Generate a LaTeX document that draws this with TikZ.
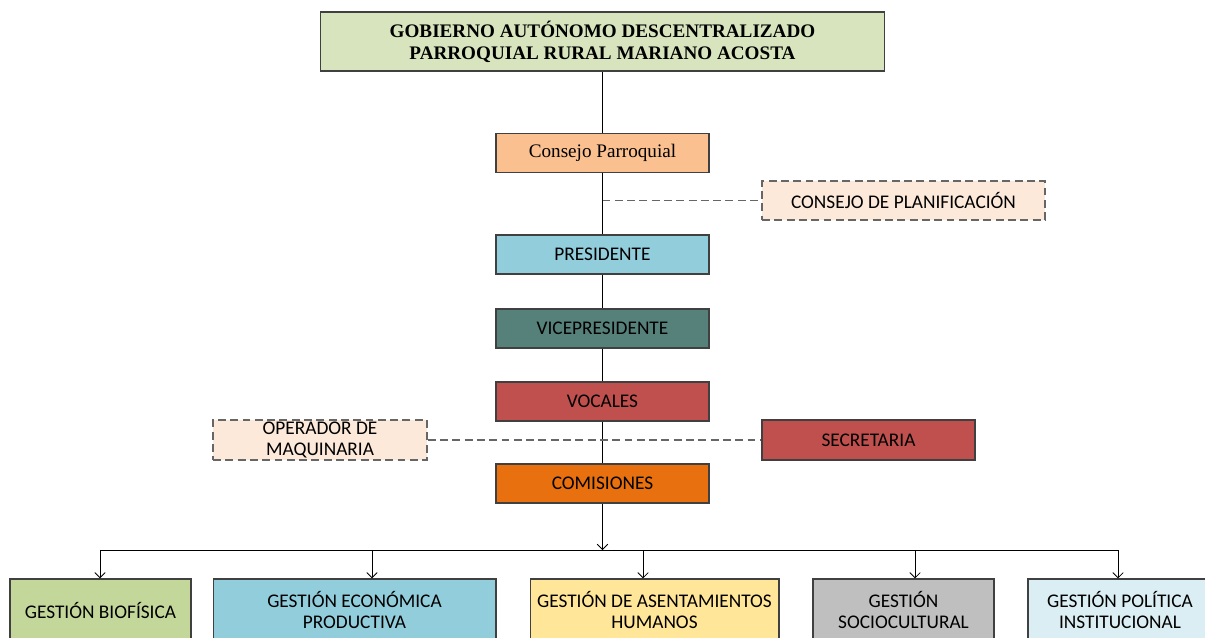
\documentclass[tikz,border=0pt]{standalone}
\usepackage{fontspec}
\setmainfont{Carlito}
\newfontfamily\romanfont{Liberation Serif}
\usetikzlibrary{arrows.meta}

\definecolor{gadverde}{HTML}{D7E4BD}
\definecolor{naranjaclaro}{HTML}{FAC090}
\definecolor{durazno}{HTML}{FDE9D9}
\definecolor{celeste}{HTML}{92CDDC}
\definecolor{verdeazul}{HTML}{56807A}
\definecolor{rojoteja}{HTML}{C0504D}
\definecolor{naranja}{HTML}{E8700F}
\definecolor{oliva}{HTML}{C4D79B}
\definecolor{amarillo}{HTML}{FFE699}
\definecolor{gris}{HTML}{BFBFBF}
\definecolor{azulpalido}{HTML}{DAEEF3}

\begin{document}
\begin{tikzpicture}[x=0.02cm,y=-0.02cm,
  caja/.style={draw=black!75,line width=0.6pt,minimum width=4.26cm,minimum height=0.78cm,
    inner sep=1pt,align=center,font=\fontsize{11}{11.4}\selectfont},
  apoyo/.style={caja,fill=durazno,draw=black!60,line width=0.9pt,dash pattern=on 4.5pt off 2.5pt},
  linea/.style={line width=0.5pt},
  guion/.style={draw=black!60,line width=0.9pt,dash pattern=on 4.5pt off 2.5pt},
  flecha/.style={linea,-{Straight Barb[length=3pt,width=6pt,line width=0.5pt]}}]
\useasboundingbox (0,0) rectangle (1205,637);

% cabecera y eje central
\node[caja,fill=gadverde,minimum width=11.3cm,minimum height=1.18cm,
  font=\romanfont\bfseries\fontsize{10.9}{12.5}\selectfont] (gad) at (602.5,41.5)
  {GOBIERNO AUTÓNOMO DESCENTRALIZADO\\PARROQUIAL RURAL MARIANO ACOSTA};
\node[caja,fill=naranjaclaro,font=\romanfont\fontsize{10.9}{12.5}\selectfont] (consejo) at (602.5,153) {Consejo Parroquial};
\node[apoyo,minimum width=5.66cm] (planif) at (903.5,200.5) {CONSEJO DE PLANIFICACIÓN};
\node[caja,fill=celeste] (pres) at (602.5,254.5) {PRESIDENTE};
\node[caja,fill=verdeazul] (vice) at (602.5,328.5) {VICEPRESIDENTE};
\node[caja,fill=rojoteja] (vocales) at (602.5,401.5) {VOCALES};
\node[apoyo,minimum width=4.28cm,minimum height=0.8cm] (operador) at (320,440) {OPERADOR DE\\MAQUINARIA};
\node[caja,fill=rojoteja,minimum height=0.8cm] (secre) at (868.5,440) {SECRETARIA};
\node[caja,fill=naranja] (comis) at (602.5,483.5) {COMISIONES};

% comisiones de gestion
\node[caja,fill=oliva,minimum width=3.62cm,minimum height=1.24cm] (g1) at (100.5,610) {GESTIÓN BIOFÍSICA};
\node[caja,fill=celeste,minimum width=5.66cm,minimum height=1.24cm] (g2) at (354.5,610) {GESTIÓN ECONÓMICA\\PRODUCTIVA};
\node[caja,fill=amarillo,minimum width=4.98cm,minimum height=1.24cm] (g3) at (654.5,610) {GESTIÓN DE ASENTAMIENTOS\\HUMANOS};
\node[caja,fill=gris,minimum width=3.62cm,minimum height=1.24cm] (g4) at (903.5,610) {GESTIÓN\\SOCIOCULTURAL};
\node[caja,fill=azulpalido,minimum width=3.68cm,minimum height=1.24cm] (g5) at (1120,610) {GESTIÓN POLÍTICA\\INSTITUCIONAL};

\draw[linea] (gad.south) -- (consejo.north);
\draw[linea] (consejo.south) -- (pres.north);
\draw[linea] (pres.south) -- (vice.north);
\draw[linea] (vice.south) -- (vocales.north);
\draw[linea] (vocales.south) -- (comis.north);

\coordinate (ramal) at (602.5,200.5);
\draw[guion] (ramal) -- (planif.west);
\draw[guion] (operador.east) -- (secre.west);

\coordinate (bus) at (602.5,550);
\coordinate (b1) at (100,550);
\coordinate (b2) at (372,550);
\coordinate (b3) at (643,550);
\coordinate (b4) at (915,550);
\coordinate (b5) at (1118,550);
\draw[flecha] (comis.south) -- (bus);
\draw[linea] (b1) -- (b5);
\foreach \b/\g in {b1/g1,b2/g2,b3/g3,b4/g4,b5/g5}
  \draw[flecha] (\b) -- (\b |- \g.north);
\end{tikzpicture}
\end{document}
